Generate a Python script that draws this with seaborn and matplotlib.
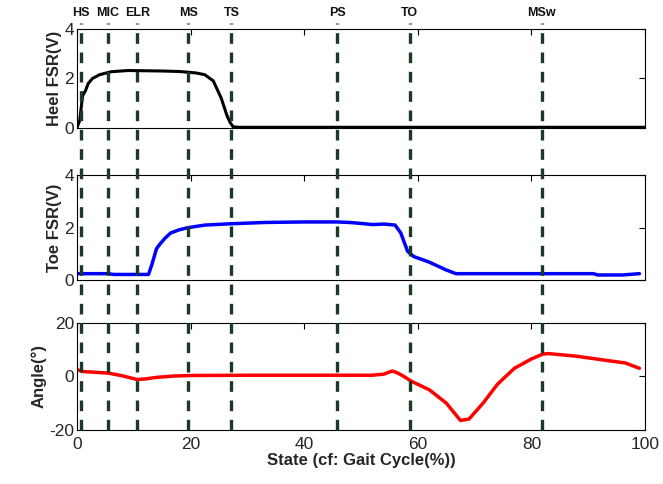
import numpy as np
import pandas as pd
import matplotlib
matplotlib.use("Agg")
import matplotlib.pyplot as plt
import seaborn as sns

# ---- data ----
heel_x = [0, 0.5, 1.0, 1.5, 2.0, 2.75, 4.0, 6.0, 9.0, 12.0, 15.0, 18.0, 19.6, 21.0, 22.5, 24.0, 25.4, 26.4, 27.0, 27.5, 28.5, 40, 60, 80, 100]
heel_y = [0, 0.3, 1.3, 1.5, 1.8, 2.0, 2.15, 2.27, 2.32, 2.31, 2.3, 2.28, 2.25, 2.22, 2.15, 1.9, 1.2, 0.5, 0.2, 0.04, 0.02, 0.02, 0.02, 0.02, 0.02]

toe_x = [0, 3, 5.5, 6.5, 10, 12.6, 13.2, 14.0, 14.7, 15.5, 16.5, 18.0, 19.5, 22.5, 27, 33, 40, 45.8, 48, 50.7, 52, 54, 56, 57, 58.2, 59.3, 61.9, 64.9, 66.7, 75, 85, 90.9, 91.7, 96, 99]
toe_y = [0.25, 0.25, 0.25, 0.22, 0.22, 0.22, 0.6, 1.2, 1.4, 1.6, 1.8, 1.92, 2.0, 2.1, 2.15, 2.2, 2.22, 2.22, 2.2, 2.15, 2.12, 2.14, 2.1, 1.8, 1.1, 0.9, 0.7, 0.4, 0.25, 0.25, 0.25, 0.25, 0.2, 0.2, 0.25]

ang_x = [0, 1, 5.5, 8, 10.6, 12, 14, 17, 20, 30, 40, 52, 54, 55.5, 56.5, 57.5, 59, 62, 65, 67.5, 69, 71.5, 74, 77, 80, 82, 83, 88, 93, 96.5, 99]
ang_y = [2.5, 1.8, 1.2, 0.2, -1.2, -1.0, -0.4, 0.1, 0.3, 0.4, 0.4, 0.4, 0.8, 2.0, 1.2, 0.0, -2.0, -5.0, -10.0, -16.5, -16.0, -10.0, -3.0, 3.0, 6.5, 8.3, 8.5, 7.5, 6.0, 5.0, 3.0]

event_x = [0.7, 5.4, 10.6, 19.6, 27.2, 45.8, 58.6, 81.8]
event_labels = ["HS", "MIC", "ELR", "MS", "TS", "PS", "TO", "MSw"]

sns.set_theme(style="white")
plt.rcParams['font.family'] = ['Liberation Sans', 'DejaVu Sans']
plt.rcParams['axes.unicode_minus'] = False

fig = plt.figure(figsize=(6.63, 4.84), dpi=100)
L, W = 0.116, 0.857
ax1 = fig.add_axes([L, 0.736, W, 0.204])
ax2 = fig.add_axes([L, 0.421, W, 0.217])
ax3 = fig.add_axes([L, 0.112, W, 0.221])

heel = pd.DataFrame({"x": heel_x, "y": heel_y})
toe = pd.DataFrame({"x": toe_x, "y": toe_y})
ang = pd.DataFrame({"x": ang_x, "y": ang_y})

sns.lineplot(data=heel, x="x", y="y", ax=ax1, color="black", lw=2.2)
sns.lineplot(data=toe, x="x", y="y", ax=ax2, color="#0000ff", lw=2.5)
sns.lineplot(data=ang, x="x", y="y", ax=ax3, color="#ff0000", lw=2.5)

for ax, yl, yt, lab in [(ax1, (0, 4), [0, 2, 4], "Heel FSR(V)"),
                        (ax2, (0, 4), [0, 2, 4], "Toe FSR(V)"),
                        (ax3, (-20, 20), [-20, 0, 20], "Angle(°)")]:
    ax.set_xlim(0, 100)
    ax.set_ylim(*yl)
    ax.set_yticks(yt)
    ax.set_xticks([0, 20, 40, 60, 80, 100])
    ax.set_ylabel(lab, fontsize=12, fontweight="bold", labelpad=2)
    ax.set_xlabel("")
    ax.tick_params(direction="in", top=True, right=True, length=4, width=0.8,
                   labelsize=12.5, color="black", pad=2)
    for s in ax.spines.values():
        s.set_color("black")
        s.set_linewidth(0.8)

ax1.set_xticklabels([])
ax2.set_xticklabels([])
ax3.tick_params(axis="x", pad=5)
ax3.set_xlabel("State (cf: Gait Cycle(%))", fontsize=12, fontweight="bold", labelpad=1)

# dashed event lines spanning all panels
top_fig = 0.953
ymax_ax = (top_fig - 0.112) / 0.221
for xv, lab in zip(event_x, event_labels):
    ax3.axvline(xv, ymin=0, ymax=ymax_ax, clip_on=False, color="#1b3a26",
                lw=2.4, ls=(0, (3.2, 2.6)), zorder=5)
    fig.text(ax1.transData.transform((xv, 0))[0] / fig.bbox.width, 0.960, lab,
             ha="center", va="bottom", fontsize=9, fontweight="bold",
             fontstretch="condensed", color="#111111")

fig.savefig("out.png", dpi=100)
